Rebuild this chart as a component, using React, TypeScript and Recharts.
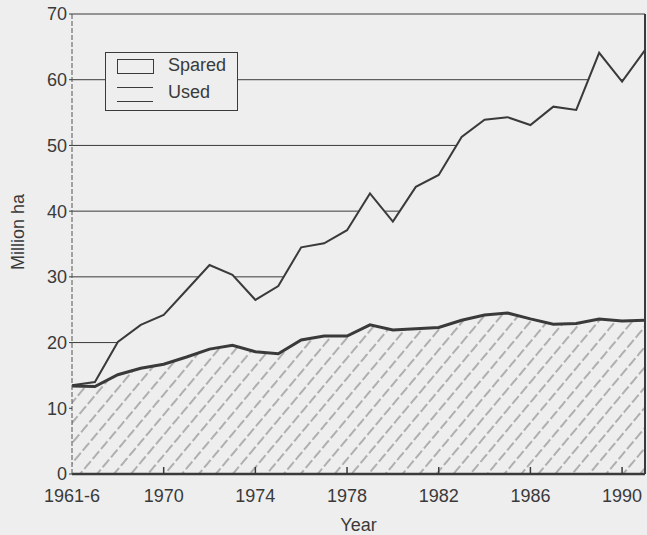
import {
  ComposedChart,
  Area,
  Line,
  XAxis,
  YAxis,
  CartesianGrid,
  ReferenceLine,
} from "recharts";

const years = [
  "1961-6", "1967", "1968", "1969", "1970", "1971", "1972", "1973", "1974",
  "1975", "1976", "1977", "1978", "1979", "1980", "1981", "1982", "1983",
  "1984", "1985", "1986", "1987", "1988", "1989", "1990", "1991",
];

const used = [
  13.4, 13.3, 15.1, 16.1, 16.7, 17.8, 19.0, 19.6, 18.6, 18.3, 20.4, 21.0,
  21.0, 22.7, 21.9, 22.1, 22.3, 23.4, 24.2, 24.5, 23.6, 22.8, 22.9, 23.6,
  23.3, 23.4,
];

const total = [
  13.5, 14.0, 20.1, 22.7, 24.2, 28.0, 31.8, 30.3, 26.5, 28.6, 34.5, 35.1,
  37.1, 42.7, 38.4, 43.7, 45.5, 51.3, 53.9, 54.3, 53.1, 55.9, 55.4, 64.1,
  59.7, 64.5,
];

const xTicks = ["1961-6", "1970", "1974", "1978", "1982", "1986", "1990"];
const yTicks = [0, 10, 20, 30, 40, 50, 60, 70];

const data = years.map((year, i) => ({
  year,
  Used: used[i],
  Spared: +(total[i] - used[i]).toFixed(1),
}));

const BG = "#eeeeee";
const INK = "#3a3a3a";
const FONT = "'Liberation Sans', Arial, sans-serif";

// bottom axis labels with small inward tick marks
const YearTick = (props: any) => {
  const { x, y, payload } = props;
  return (
    <g>
      {payload.index !== 0 && (
        <line x1={x} x2={x} y1={y - 7} y2={y} stroke={INK} strokeWidth={1.5} />
      )}
      <text
        x={x}
        y={y + 28}
        textAnchor="middle"
        fill={INK}
        fontSize={18}
        fontFamily={FONT}
      >
        {payload.value}
      </text>
    </g>
  );
};

const LegendBox = () => (
  <div
    style={{
      position: "absolute",
      left: 105,
      top: 52,
      width: 131,
      height: 57,
      border: `1.5px solid ${INK}`,
      background: BG,
      fontFamily: FONT,
      fontSize: 18,
      color: INK,
    }}
  >
    <div
      style={{
        position: "absolute",
        left: 11,
        top: 6,
        width: 35,
        height: 13,
        border: `1.5px solid ${INK}`,
      }}
    />
    <span style={{ position: "absolute", left: 62, top: 2 }}>Spared</span>
    <div
      style={{
        position: "absolute",
        left: 11,
        top: 34,
        width: 36,
        height: 13,
        borderTop: `1.5px solid ${INK}`,
        borderBottom: `1.5px solid ${INK}`,
      }}
    />
    <span style={{ position: "absolute", left: 62, top: 29 }}>Used</span>
  </div>
);

export default function App() {
  return (
    <div
      style={{
        position: "absolute",
        left: 0,
        top: 0,
        width: 647,
        height: 535,
        background: BG,
      }}
    >
      <ComposedChart
        width={647}
        height={535}
        data={data}
        margin={{ top: 14, right: 2, left: 12, bottom: 3 }}
      >
        <defs>
          <pattern
            id="hatch"
            patternUnits="userSpaceOnUse"
            width={13}
            height={13}
            patternTransform="rotate(40)"
          >
            <rect width={13} height={13} fill={BG} />
            <line
              x1={2}
              y1={0}
              x2={2}
              y2={13}
              stroke="#707070"
              strokeWidth={1}
              strokeDasharray="6 3"
            />
          </pattern>
        </defs>
        <CartesianGrid
          horizontal
          vertical={false}
          stroke={INK}
          strokeWidth={1}
          horizontalValues={yTicks}
        />
        <XAxis
          dataKey="year"
          ticks={xTicks}
          interval={0}
          height={58}
          tickSize={0}
          tickMargin={0}
          tick={<YearTick />}
          axisLine={{ stroke: INK, strokeWidth: 2.5 }}
          tickLine={false}
          label={{
            value: "Year",
            position: "insideBottom",
            offset: 1,
            fill: INK,
            fontSize: 18,
            fontFamily: FONT,
          }}
        />
        <YAxis
          type="number"
          domain={[0, 70]}
          ticks={yTicks}
          interval={0}
          width={60}
          tickSize={3}
          tickMargin={2}
          axisLine={{ stroke: "#555", strokeWidth: 1, strokeDasharray: "5 2" }}
          tickLine={{ stroke: INK }}
          tick={{ fill: INK, fontSize: 18, fontFamily: FONT }}
          label={{
            value: "Million ha",
            angle: -90,
            position: "insideLeft",
            offset: 6,
            dy: 26,
            fill: INK,
            fontSize: 18,
            fontFamily: FONT,
          }}
        />
        <Area
          type="linear"
          dataKey="Used"
          stackId="land"
          stroke="none"
          fill="url(#hatch)"
          fillOpacity={1}
          isAnimationActive={false}
        />
        <Area
          type="linear"
          dataKey="Spared"
          stackId="land"
          stroke={INK}
          strokeWidth={2}
          fill={BG}
          fillOpacity={1}
          isAnimationActive={false}
        />
        <Line
          type="linear"
          dataKey="Used"
          stroke={INK}
          strokeWidth={3}
          dot={false}
          legendType="none"
          isAnimationActive={false}
        />
        <ReferenceLine x="1991" stroke={INK} strokeWidth={2} />
      </ComposedChart>
      <LegendBox />
    </div>
  );
}
